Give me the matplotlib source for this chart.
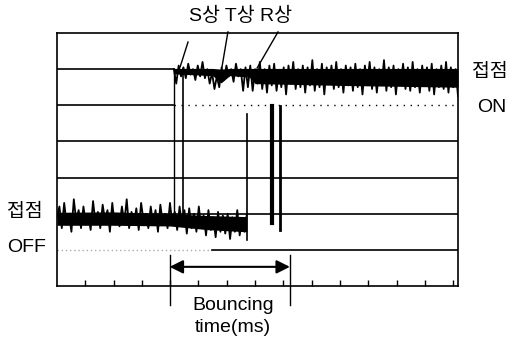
import numpy as np
import matplotlib
matplotlib.use("Agg")
import matplotlib.pyplot as plt

plt.rcParams['font.family'] = ['Liberation Sans', 'Noto Sans CJK KR']

# grid levels (divisions) and x range (time divisions)
levels = [1, 2, 3, 4, 5, 6]
x_max = 14.17
tick_pos = list(range(1, 15))

# contact OFF trace (before switching), y in divisions
off_start, off_end = 0.0, 6.71
off_vals = [1.9, 2.2, 1.6, 2.3, 1.7, 2.0, 1.5, 2.4, 1.8, 2.1, 1.6, 2.2, 1.7, 1.95, 1.55, 2.35,
            1.75, 2.05, 1.6, 2.25, 1.8, 2.1, 1.5, 2.3, 1.7, 2.0, 1.65, 2.2, 1.75, 2.4, 1.6, 2.05,
            1.7, 2.15, 1.55, 2.3, 1.8, 2.0, 1.6, 2.2, 1.7, 2.1, 1.5, 2.25, 1.75, 2.0, 1.6, 2.3,
            1.7, 2.05, 1.55, 2.2, 1.65, 2.1, 1.45, 2.15, 1.6, 2.0, 1.5, 2.2, 1.6, 1.95, 1.4, 2.1,
            1.55, 1.9, 1.35, 2.05, 1.5, 1.95, 1.45, 2.0, 1.3, 1.9, 1.5, 2.1, 1.4, 1.85, 1.5, 2.0]
# dense core of the OFF band: (x, low, high)
off_core_x = [0.0, 2.0, 4.0, 5.3, 6.71]
off_core_lo = [1.68, 1.68, 1.66, 1.56, 1.5]
off_core_hi = [2.04, 2.05, 2.0, 1.95, 1.92]

# contact ON trace (after switching)
on_start = 4.13
on_vals = [6.0, 5.6, 6.1, 5.8, 6.05, 5.75, 6.15, 5.85, 6.0, 5.7, 6.1, 5.8, 6.2, 5.75, 6.0, 5.6,
           5.9, 5.45, 5.8, 5.5, 6.05, 5.7, 6.1, 5.8, 6.0, 5.65, 6.15, 5.8, 6.0, 5.4,
           6.05, 5.5, 6.1, 5.4, 6.0, 5.6, 6.2, 5.45, 6.0, 5.35, 6.1, 5.55, 6.15, 5.4, 5.95, 5.5,
           6.05, 5.3, 6.1, 5.6, 6.2, 5.45, 6.0, 5.5, 6.1, 5.35, 6.05, 5.55, 6.25, 5.4, 6.0, 5.5,
           6.15, 5.3, 6.05, 5.6, 6.1, 5.45, 6.2, 5.5, 6.0, 5.35, 6.1, 5.55, 6.05, 5.4, 6.15, 5.5,
           6.0, 5.3, 6.1, 5.6, 6.2, 5.45, 6.05, 5.35, 6.0, 5.55, 6.25, 5.4, 6.05, 5.5, 6.1, 5.3,
           6.0, 5.6, 6.15, 5.45, 6.05, 5.4, 6.2, 5.5, 6.0, 5.35, 6.1, 5.55, 6.05, 5.4, 6.15, 5.3,
           6.0, 5.5, 6.1, 5.45, 6.2, 5.35, 6.05, 5.5, 6.0, 5.25]
# dense core of the ON band
on_core_x = [4.13, 5.5, 5.8, 6.1, 6.8, 7.0, 10.0, 14.17]
on_core_lo = [5.87, 5.82, 5.62, 5.82, 5.78, 5.6, 5.55, 5.5]
on_core_hi = [6.02, 6.02, 6.0, 6.02, 6.02, 6.02, 6.02, 6.02]

# phase switching edges: (x, y_top, y_bottom, linewidth)
edges = [(4.13, 6.0, 2.0, 1.0), (4.45, 6.0, 1.9, 1.2), (6.71, 4.76, 1.27, 1.2),
         (7.60, 4.98, 1.75, 3.0), (7.88, 4.98, 1.55, 2.0)]

# phase labels leaders: (x_from, y_from, x_to, y_to)
leaders = [(4.63, 6.75, 4.35, 6.06), (6.04, 7.03, 5.83, 6.06), (7.81, 7.03, 7.07, 6.03)]

bounce_start, bounce_end = 3.98, 8.23

fig = plt.figure(figsize=(5.07, 3.39), dpi=100)
ax = fig.add_axes([57 / 507, 1 - 286 / 339, 401 / 507, 253 / 339])
ax.set_xlim(0, x_max)
ax.set_ylim(0, 7)

# grid lines
for lv in levels:
    if lv == 5:
        ax.plot([0, on_start], [lv, lv], color='black', lw=1.2)
        ax.plot([on_start, x_max], [lv, lv], color='black', lw=1.0, ls=(0, (1, 4)))
    elif lv == 1:
        ax.plot([0, 5.46], [lv, lv], color='#aaaaaa', lw=1.0, ls=(0, (1, 2)))
        ax.plot([5.46, x_max], [lv, lv], color='black', lw=1.2)
    elif lv == 6:
        ax.plot([0, on_start], [lv, lv], color='black', lw=1.2)
    else:
        ax.plot([0, x_max], [lv, lv], color='black', lw=1.2)

# traces
ax.fill_between(off_core_x, off_core_lo, off_core_hi, color='black', lw=0)
x_off = np.linspace(off_start, off_end, len(off_vals))
ax.plot(x_off, off_vals, color='black', lw=1.3)
ax.fill_between(on_core_x, on_core_lo, on_core_hi, color='black', lw=0)
x_on = np.linspace(on_start, x_max, len(on_vals))
ax.plot(x_on, on_vals, color='black', lw=1.3)

for x, y0, y1, w in edges:
    ax.plot([x, x], [y0, y1], color='black', lw=w)

# leaders to phase labels
for x0, y0, x1, y1 in leaders:
    ax.plot([x0, x1], [y0, y1], color='black', lw=1.0, clip_on=False)

ax.text(6.47, 7.47, "S상 T상 R상", ha='center', va='center', fontsize=14)

# bouncing time arrow
ax.annotate('', xy=(bounce_end, 0.53), xytext=(bounce_start, 0.53),
            arrowprops=dict(arrowstyle='<|-|>', color='black', lw=1.5,
                            mutation_scale=20, shrinkA=0, shrinkB=0))
for xb in [bounce_start, bounce_end]:
    ax.plot([xb, xb], [0.85, -0.53], color='black', lw=1.0, clip_on=False)

ax.set_xticks(tick_pos)
ax.set_yticks([])
ax.tick_params(axis='x', direction='in', length=4, width=1.0, labelbottom=False)
for s in ax.spines.values():
    s.set_linewidth(1.2)

fig.text(233 / 507, 1 - 305 / 339, "Bouncing", ha='center', va='center', fontsize=14)
fig.text(233 / 507, 1 - 327 / 339, "time(ms)", ha='center', va='center', fontsize=14)
fig.text(490 / 507, 1 - 72 / 339, "접점", ha='center', va='center', fontsize=14)
fig.text(492 / 507, 1 - 107 / 339, "ON", ha='center', va='center', fontsize=14)
fig.text(25 / 507, 1 - 212 / 339, "접점", ha='center', va='center', fontsize=14)
fig.text(27 / 507, 1 - 248 / 339, "OFF", ha='center', va='center', fontsize=14)

fig.savefig("out.png", dpi=100)
